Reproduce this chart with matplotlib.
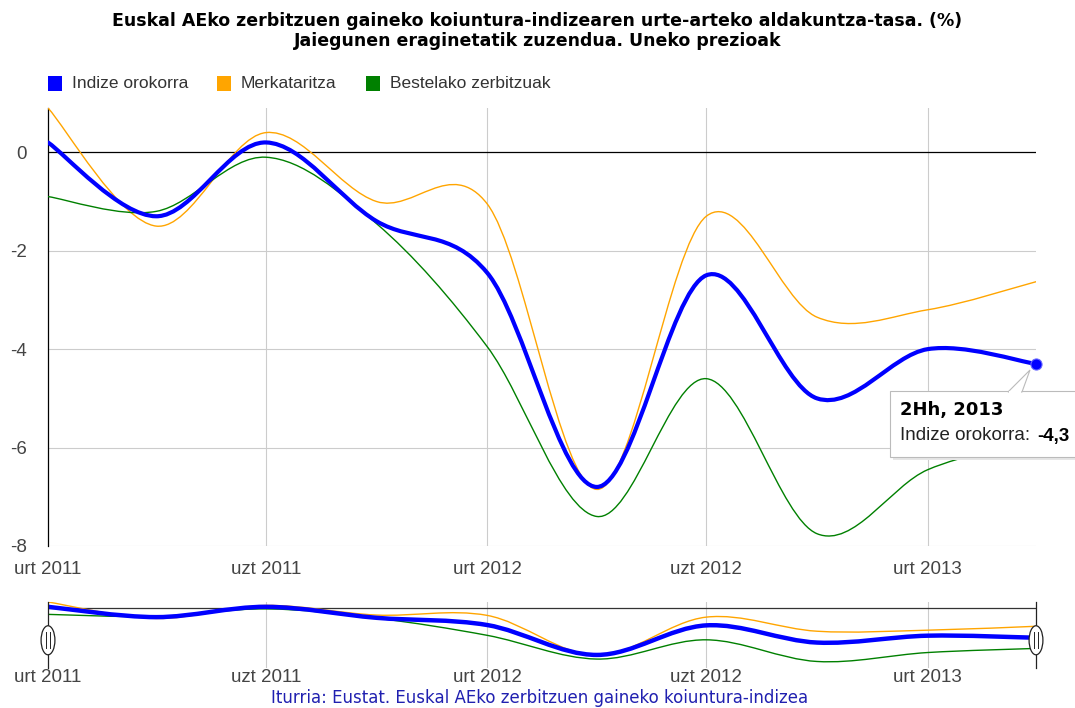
#!/usr/bin/env python3

import numpy as np
import pandas as pd

import matplotlib
matplotlib.use("Agg")

import matplotlib.pyplot as plt
import matplotlib.dates as mdates
from matplotlib.path import Path
from matplotlib.patches import PathPatch, Rectangle, Polygon, Ellipse

# quarterly year-on-year rates (%)
quarters = ["2011-01-01", "2011-04-01", "2011-07-01", "2011-10-01",
            "2012-01-01", "2012-04-01", "2012-07-01", "2012-10-01",
            "2013-01-01", "2013-04-01"]
indize_orokorra = [0.2, -1.3, 0.2, -1.4, -2.45, -6.8, -2.5, -5.0, -4.0, -4.3]
merkataritza = [0.9, -1.5, 0.4, -1.0, -1.05, -6.85, -1.3, -3.35, -3.2, -2.63]
bestelako = [-0.9, -1.2, -0.1, -1.45, -3.95, -7.4, -4.6, -7.75, -6.45, -5.85]

series_names = ["Indize orokorra", "Merkataritza", "Bestelako zerbitzuak"]
series_colors = ["#0000ff", "#ffa500", "#008000"]

tick_dates = ["2011-01-01", "2011-07-01", "2012-01-01", "2012-07-01", "2013-01-01"]
tick_labels = ["urt 2011", "uzt 2011", "urt 2012", "uzt 2012", "urt 2013"]
y_ticks = [0, -2, -4, -6, -8]

title = ("Euskal AEko zerbitzuen gaineko koiuntura-indizearen urte-arteko aldakuntza-tasa. (%)\n"
         "Jaiegunen eraginetatik zuzendua. Uneko prezioak")
source = "Iturria: Eustat. Euskal AEko zerbitzuen gaineko koiuntura-indizea"

TXT = "#444444"
GRID = "#cccccc"


def smooth_path(x, y):
    # catmull-rom through the points, drawn as cubic bezier segments
    pts = np.column_stack([x, y])
    n = len(pts)
    verts = [pts[0]]
    codes = [Path.MOVETO]
    for i in range(n - 1):
        p0 = pts[max(i - 1, 0)]
        p1 = pts[i]
        p2 = pts[i + 1]
        p3 = pts[min(i + 2, n - 1)]
        c1 = p1 + (p2 - p0) / 6
        c2 = p2 - (p3 - p1) / 6
        verts += [c1, c2, p2]
        codes += [Path.CURVE4] * 3
    return Path(verts, codes)


def draw_series(ax, x, widths):
    for vals, color, lw in zip([merkataritza, bestelako, indize_orokorra],
                               [series_colors[1], series_colors[2], series_colors[0]],
                               widths):
        ax.add_patch(PathPatch(smooth_path(x, np.array(vals, dtype=float)),
                               facecolor="none", edgecolor=color, lw=lw,
                               capstyle="round", joinstyle="round", zorder=3))


x = mdates.date2num(pd.to_datetime(quarters))
xt = mdates.date2num(pd.to_datetime(tick_dates))

fig = plt.figure(figsize=(10.75, 7.08), dpi=100)
plt.rcParams["font.family"] = ["Liberation Sans", "DejaVu Sans"]

ax = fig.add_axes([48 / 1075, 1 - 546 / 708, 988 / 1075, 438 / 708])
ax.set_xlim(x[0], x[-1])
ax.set_ylim(-8, 0.9)

draw_series(ax, x, [1.0, 1.0, 3.0])

ax.set_xticks(xt)
ax.set_xticklabels(tick_labels)
ax.set_yticks(y_ticks)
ax.set_yticklabels([str(v) for v in y_ticks])
ax.tick_params(length=0, labelsize=13.5, colors=TXT, pad=11)
ax.tick_params(axis="y", pad=15)
for v in y_ticks[1:]:
    ax.axhline(v, color=GRID, lw=0.8, zorder=1)
for v in xt[1:]:
    ax.axvline(v, color=GRID, lw=0.8, zorder=1)
ax.axhline(0, color="black", lw=0.9, zorder=2)
for side in ["top", "right", "bottom"]:
    ax.spines[side].set_visible(False)
ax.spines["left"].set_color("black")
ax.spines["left"].set_linewidth(0.9)

# last point marker
ax.plot(x[-1], indize_orokorra[-1], marker="o", ms=8, color="#0000ff",
        mec="#6a6aff", mew=0.8, zorder=5, clip_on=False)

# title and legend
fig.text(0.5, 1 - 31 / 708, title, ha="center", va="center", fontsize=12.5,
         fontweight="bold", family="DejaVu Sans", linespacing=1.1)
leg_x = [48, 217, 366]
for lx, name, color in zip(leg_x, series_names, series_colors):
    fig.patches.append(Rectangle((lx / 1075, 1 - 91 / 708), 14 / 1075, 15 / 708,
                                 transform=fig.transFigure, facecolor=color,
                                 edgecolor="none"))
    fig.text((lx + 24) / 1075, 1 - 84 / 708, name, ha="left", va="center",
             fontsize=12.5, color="#333333")

# tooltip
fig.patches.append(Rectangle((893 / 1075, 1 - 460 / 708), 190 / 1075, 67 / 708,
                             transform=fig.transFigure, facecolor="#e6e6e6",
                             edgecolor="none", zorder=6))
fig.patches.append(Rectangle((890 / 1075, 1 - 457 / 708), 190 / 1075, 66 / 708,
                             transform=fig.transFigure, facecolor="white",
                             edgecolor="#bbbbbb", lw=0.8, zorder=7))
fig.patches.append(Polygon([[1008 / 1075, 1 - 392 / 708], [1030 / 1075, 1 - 370 / 708],
                            [1022 / 1075, 1 - 392 / 708]], closed=True,
                           transform=fig.transFigure, facecolor="white",
                           edgecolor="#bbbbbb", lw=0.8, zorder=7))
fig.patches.append(Rectangle((1009 / 1075, 1 - 393.5 / 708), 12 / 1075, 3 / 708,
                             transform=fig.transFigure, facecolor="white",
                             edgecolor="none", zorder=8))
fig.text(900 / 1075, 1 - 410 / 708, "2Hh, 2013", ha="left", va="center",
         fontsize=13, fontweight="bold", color="black", zorder=9,
         family="DejaVu Sans")
fig.text(900 / 1075, 1 - 436 / 708, "Indize orokorra:", ha="left", va="center",
         fontsize=13.5, color="#222222", zorder=9)
fig.text(1037 / 1075, 1 - 436 / 708, "-4,3", ha="left", va="center",
         fontsize=13.5, fontweight="bold", color="black", zorder=9)

# range navigator
nav = fig.add_axes([48 / 1075, 1 - 668 / 708, 988 / 1075, 66 / 708])
nav.set_xlim(x[0], x[-1])
nav.set_ylim(-8.7, 0.9)
draw_series(nav, x, [1.0, 1.0, 3.2])
nav.axhline(0, color="#333333", lw=0.9, zorder=2)
for v in xt[1:]:
    nav.axvline(v, color=GRID, lw=0.8, zorder=1)
for s in nav.spines.values():
    s.set_visible(False)
nav.set_yticks([])
nav.set_xticks(xt)
nav.set_xticklabels(tick_labels)
nav.tick_params(length=0, labelsize=13.5, colors=TXT, pad=1)
for hx in [0, 1]:
    nav.plot([hx, hx], [0, 1], transform=nav.transAxes, color="#222222", lw=0.9,
             clip_on=False, zorder=4)
    nav.add_patch(Ellipse((hx, 0.42), 0.014, 0.44, transform=nav.transAxes,
                          facecolor="white", edgecolor="#222222", lw=0.9,
                          clip_on=False, zorder=5))
    for dx in [-0.0018, 0.0018]:
        nav.plot([hx + dx, hx + dx], [0.3, 0.54], transform=nav.transAxes,
                 color="#222222", lw=0.7, clip_on=False, zorder=6)

fig.text(540 / 1075, 1 - 698 / 708, source, ha="center", va="center",
         fontsize=12, color="#2020b0", family="DejaVu Sans")

fig.savefig("out.png", dpi=100)
